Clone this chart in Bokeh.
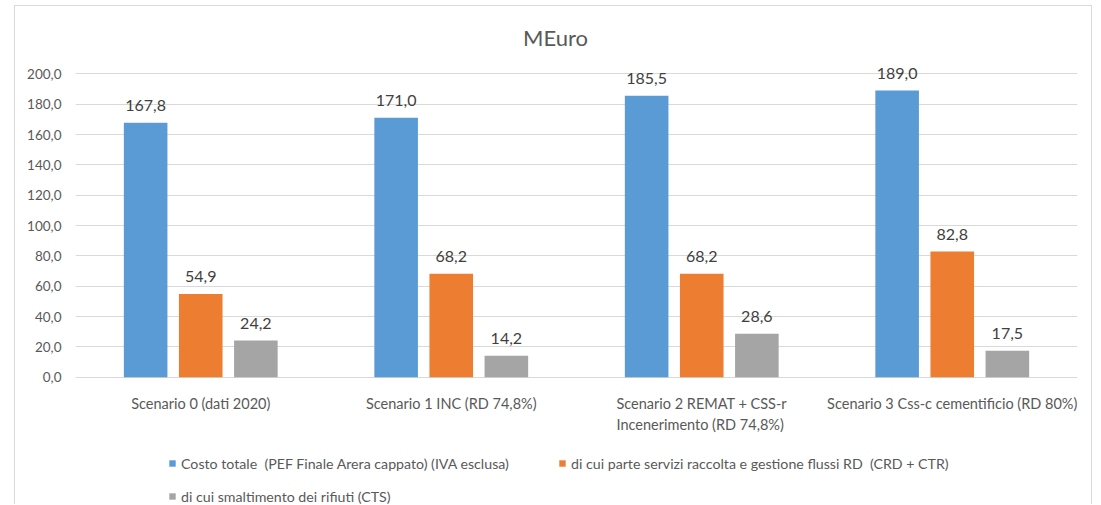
from bokeh.plotting import figure
from bokeh.models import (ColumnDataSource, FactorRange, Range1d, FixedTicker,
                          LabelSet, Label, Legend, LegendItem)
from bokeh.transform import dodge
from bokeh.core.properties import value
from bokeh.embed import file_html
from bokeh.resources import INLINE

# --- data -------------------------------------------------------------------
categories = [
    "Scenario 0 (dati 2020)",
    "Scenario 1 INC (RD 74,8%)",
    "Scenario 2 REMAT + CSS-r\nIncenerimento (RD 74,8%)",
    "Scenario 3 Css-c cementificio (RD 80%)",
]
series_names = [
    "Costo totale  (PEF Finale Arera cappato) (IVA esclusa)",
    "di cui parte servizi raccolta e gestione flussi RD  (CRD + CTR)",
    "di cui smaltimento dei rifiuti (CTS)",
]
costo_totale = [167.8, 171.0, 185.5, 189.0]
servizi_rd = [54.9, 68.2, 68.2, 82.8]
smaltimento = [24.2, 14.2, 28.6, 17.5]

y_ticks = [0, 20, 40, 60, 80, 100, 120, 140, 160, 180, 200]
y_tick_labels = ["0,0", "20,0", "40,0", "60,0", "80,0", "100,0",
                 "120,0", "140,0", "160,0", "180,0", "200,0"]

title_text = "MEuro"

# --- styling ----------------------------------------------------------------
FONT = "Lato"
TEXT = "#595959"
LABEL = "#404040"
GRID = "#D9D9D9"
COLORS = ["#5B9BD5", "#ED7D31", "#A5A5A5"]
OFFSET = 0.22
BAR_W = 0.174


def it_fmt(v):
    return f"{v:.1f}".replace(".", ",")


src = ColumnDataSource(dict(
    cat=categories,
    zero=[0.0] * len(categories),
    costo=costo_totale,
    serv=servizi_rd,
    smalt=smaltimento,
    costo_lbl=[it_fmt(v) for v in costo_totale],
    serv_lbl=[it_fmt(v) for v in servizi_rd],
    smalt_lbl=[it_fmt(v) for v in smaltimento],
))

# The plot area runs down to the bottom edge so that the category names and
# the legend can sit underneath the bars; the value scale stays 0..200.
p = figure(
    x_range=FactorRange(*categories),
    y_range=Range1d(-84.6, 237.8),
    width=1078, height=499,
    min_border_left=60, min_border_right=16,
    min_border_top=10, min_border_bottom=0,
    output_backend="svg", toolbar_location=None,
)
p.styles = {
    "margin-left": "14px",
    "margin-top": "5px",
    "border-top": f"1px solid {GRID}",
    "border-left": f"1px solid {GRID}",
    "border-right": f"1px solid {GRID}",
}
p.outline_line_color = None
p.background_fill_color = "white"
p.border_fill_color = "white"

# grid
p.xgrid.grid_line_color = None
p.ygrid.grid_line_color = GRID
p.ygrid.grid_line_width = 1

# y axis
p.yaxis.ticker = FixedTicker(ticks=y_ticks)
p.yaxis.major_label_overrides = dict(zip(y_ticks, y_tick_labels))
p.yaxis.axis_line_color = None
p.yaxis.major_tick_line_color = None
p.yaxis.minor_tick_line_color = None
p.yaxis.major_tick_out = 0
p.yaxis.major_tick_in = 0
p.yaxis.minor_tick_out = 0
p.yaxis.major_label_standoff = 14
p.yaxis.major_label_text_font = FONT
p.yaxis.major_label_text_font_size = "13.5px"
p.yaxis.major_label_text_color = TEXT

# category names are written just under the zero line
p.xaxis.visible = False
p.add_layout(LabelSet(
    x="cat", y="zero", text="cat", source=src,
    text_align="center", text_baseline="top", y_offset=-18,
    text_font=value(FONT), text_font_size="14.5px", text_color=TEXT,
    text_line_height=1.2,
))

# bars
cols = ["costo", "serv", "smalt"]
offsets = [-OFFSET, 0.0, OFFSET]
renderers = []
for col, off, color in zip(cols, offsets, COLORS):
    r = p.vbar(x=dodge("cat", off, range=p.x_range), bottom=0, top=col,
               width=BAR_W, source=src, fill_color=color, line_color=None)
    renderers.append(r)
    p.add_layout(LabelSet(
        x=dodge("cat", off, range=p.x_range), y=col, text=f"{col}_lbl",
        source=src, text_align="center", text_baseline="middle", y_offset=17,
        text_font=value(FONT), text_font_size="16px", text_color=LABEL,
    ))

# title
p.add_layout(Label(
    x=480, y=468, x_units="screen", y_units="screen", text=title_text,
    text_align="center", text_baseline="middle",
    text_font=FONT, text_font_size="22px", text_color=TEXT,
))


# legend: two blocks at the bottom of the chart
def make_legend(items, loc):
    lg = Legend(items=items, location=loc, orientation="vertical")
    lg.glyph_width = 8
    lg.glyph_height = 8
    lg.label_height = 20
    lg.label_standoff = 5
    lg.spacing = 13
    lg.padding = 0
    lg.margin = 0
    lg.border_line_color = None
    lg.background_fill_alpha = 0
    lg.label_text_font = FONT
    lg.label_text_font_size = "14.2px"
    lg.label_text_color = TEXT
    return lg


p.add_layout(make_legend(
    [LegendItem(label=series_names[0], renderers=[renderers[0]]),
     LegendItem(label=series_names[2], renderers=[renderers[2]])],
    (93, -1)))
p.add_layout(make_legend(
    [LegendItem(label=series_names[1], renderers=[renderers[1]])],
    (483, 32)))

open("out.html", "w").write(file_html(p, INLINE))
